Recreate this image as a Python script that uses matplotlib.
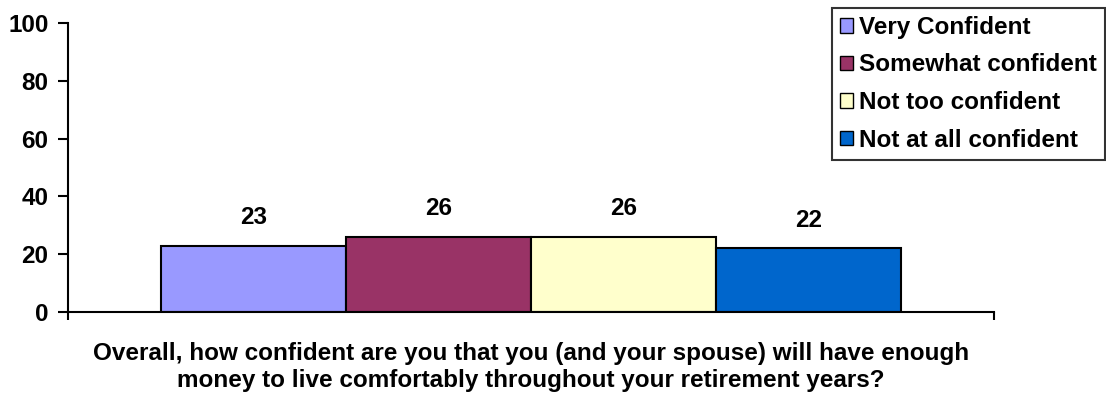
import matplotlib
matplotlib.use("Agg")
import matplotlib.pyplot as plt
from matplotlib.patches import Patch

plt.rcParams['font.family'] = ['Liberation Sans', 'DejaVu Sans']
plt.rcParams['font.weight'] = 'bold'

# Survey answers (percent)
answers = ["Very Confident", "Somewhat confident", "Not too confident", "Not at all confident"]
percents = [23, 26, 26, 22]
colors = ["#9999FF", "#993366", "#FFFFCC", "#0066CC"]
question = ("Overall, how confident are you that you (and your spouse) will have enough\n"
            "money to live comfortably throughout your retirement years?")

fs = 17.5

fig = plt.figure(figsize=(11.06, 3.93), dpi=100)
axes = fig.add_axes([0.0615, 0.206, 0.8372, 0.7355])

xpos = range(len(answers))
bars = axes.bar(xpos, percents, width=1.0, color=colors,
                edgecolor="black", linewidth=1.5)
for b, v in zip(bars, percents):
    axes.annotate("%d" % v, (b.get_x() + b.get_width() / 2, v),
                  xytext=(0, 12), textcoords="offset points",
                  ha="center", va="bottom", fontsize=fs, fontweight="bold")

axes.set_xlim(-1, 4)
axes.set_ylim(0, 100)
axes.set_yticks([0, 20, 40, 60, 80, 100])
axes.set_xticks([-1, 4])
axes.set_xticklabels([])
axes.tick_params(axis="y", direction="out", length=7, width=1.5,
                 labelsize=fs, pad=7)
axes.tick_params(axis="x", direction="out", length=6, width=1.5)
for lab in axes.get_yticklabels():
    lab.set_fontweight("bold")

axes.spines["top"].set_visible(False)
axes.spines["right"].set_visible(False)
axes.spines["left"].set_linewidth(1.5)
axes.spines["bottom"].set_linewidth(1.5)

axes.set_xlabel(question, fontsize=fs, fontweight="bold", labelpad=12,
                linespacing=1.2)

handles = [Patch(facecolor=c, edgecolor="black", linewidth=1.0) for c in colors]
leg = fig.legend(handles, answers, loc="upper right",
                 bbox_to_anchor=(0.999, 0.98), bbox_transform=fig.transFigure,
                 borderaxespad=0, fontsize=fs, frameon=True, fancybox=False,
                 handlelength=0.55, handleheight=0.55, handletextpad=0.25,
                 labelspacing=0.6, borderpad=0.33)
leg.get_frame().set_edgecolor("black")
leg.get_frame().set_linewidth(1.5)
for t in leg.get_texts():
    t.set_fontweight("bold")

fig.savefig("out.png", dpi=100)
